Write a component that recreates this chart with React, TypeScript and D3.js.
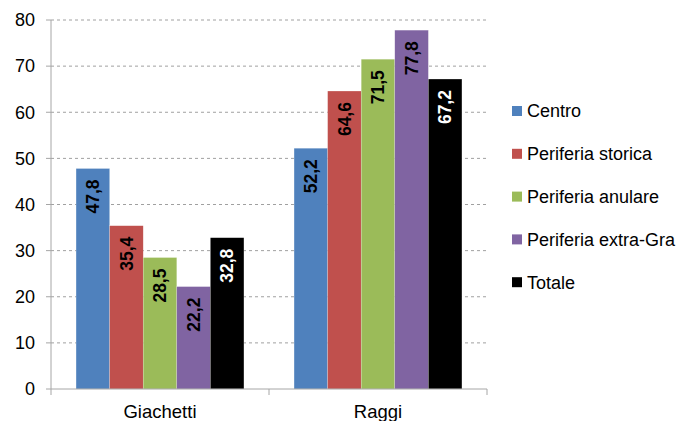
import React from "react";
import * as d3 from "d3";

const categories = ["Giachetti", "Raggi"];
const seriesNames = ["Centro", "Periferia storica", "Periferia anulare", "Periferia extra-Gra", "Totale"];
const seriesColors = ["#4F81BD", "#C0504D", "#9BBB59", "#8064A2", "#000000"];
const labelColors = ["#000", "#000", "#000", "#000", "#fff"];
const valuesGiachetti = [47.8, 35.4, 28.5, 22.2, 32.8];
const valuesRaggi = [52.2, 64.6, 71.5, 77.8, 67.2];
const yTicks = [0, 10, 20, 30, 40, 50, 60, 70, 80];

const W = 683;
const H = 421;
const m = { left: 51, right: 487, top: 20, bottom: 389 };

export default function App() {
  const values = [valuesGiachetti, valuesRaggi];
  const x0 = d3.scaleBand().domain(categories).range([m.left, m.right]).paddingInner(0.23).paddingOuter(0.115);
  const x1 = d3.scaleBand().domain(seriesNames).range([0, x0.bandwidth()]);
  const y = d3.scaleLinear().domain([0, 80]).range([m.bottom, m.top]);
  const fmt = (v: number) => v.toFixed(1).replace(".", ",");
  const axisColor = "#A6A6A6";
  const catStep = (m.right - m.left) / categories.length;

  return (
    <svg width={W} height={H} style={{ position: "absolute", left: 0, top: 0, fontFamily: "Liberation Sans, Arial, sans-serif" }}>
      <rect width={W} height={H} fill="#fff" />
      {yTicks.map((t) => (
        <g key={t}>
          {t > 0 && (
            <line x1={m.left} x2={m.right} y1={y(t)} y2={y(t)} stroke="#A0A0A0" strokeDasharray="3,3" strokeWidth={1} />
          )}
          <line x1={m.left - 5} x2={m.left} y1={y(t)} y2={y(t)} stroke={axisColor} />
          <text x={35} y={y(t)} dy="0.35em" textAnchor="end" fontSize={18} fill="#000">
            {t}
          </text>
        </g>
      ))}
      {categories.map((c, ci) =>
        seriesNames.map((s, si) => {
          const v = values[ci][si];
          const bx = (x0(c) ?? 0) + (x1(s) ?? 0);
          const bw = x1.bandwidth();
          const top = y(v);
          return (
            <g key={c + s}>
              <rect x={bx} y={top} width={bw} height={y(0) - top} fill={seriesColors[si]} stroke="#fff" strokeOpacity={0.4} strokeWidth={0.5} />
              <text
                transform={`translate(${bx + bw / 2},${top + 11}) rotate(-90)`}
                textAnchor="end"
                dy="0.36em"
                fontSize={17.5}
                fontWeight="bold"
                fill={labelColors[si]}
              >
                {fmt(v)}
              </text>
            </g>
          );
        })
      )}
      <line x1={m.left} x2={m.left} y1={m.top} y2={m.bottom} stroke={axisColor} />
      <line x1={m.left} x2={m.right} y1={m.bottom} y2={m.bottom} stroke={axisColor} />
      {d3.range(categories.length + 1).map((i) => (
        <line key={i} x1={m.left + i * catStep} x2={m.left + i * catStep} y1={m.bottom} y2={m.bottom + 6} stroke={axisColor} />
      ))}
      {categories.map((c) => (
        <text key={c} x={(x0(c) ?? 0) + x0.bandwidth() / 2} y={418} textAnchor="middle" fontSize={18.5} fill="#000">
          {c}
        </text>
      ))}
      {seriesNames.map((s, i) => {
        const cy = 111 + i * 42.8;
        return (
          <g key={s}>
            <rect x={512} y={cy - 5} width={10} height={10} fill={seriesColors[i]} />
            <text x={527} y={cy} dy="0.36em" fontSize={18} fill="#000">
              {s}
            </text>
          </g>
        );
      })}
    </svg>
  );
}
